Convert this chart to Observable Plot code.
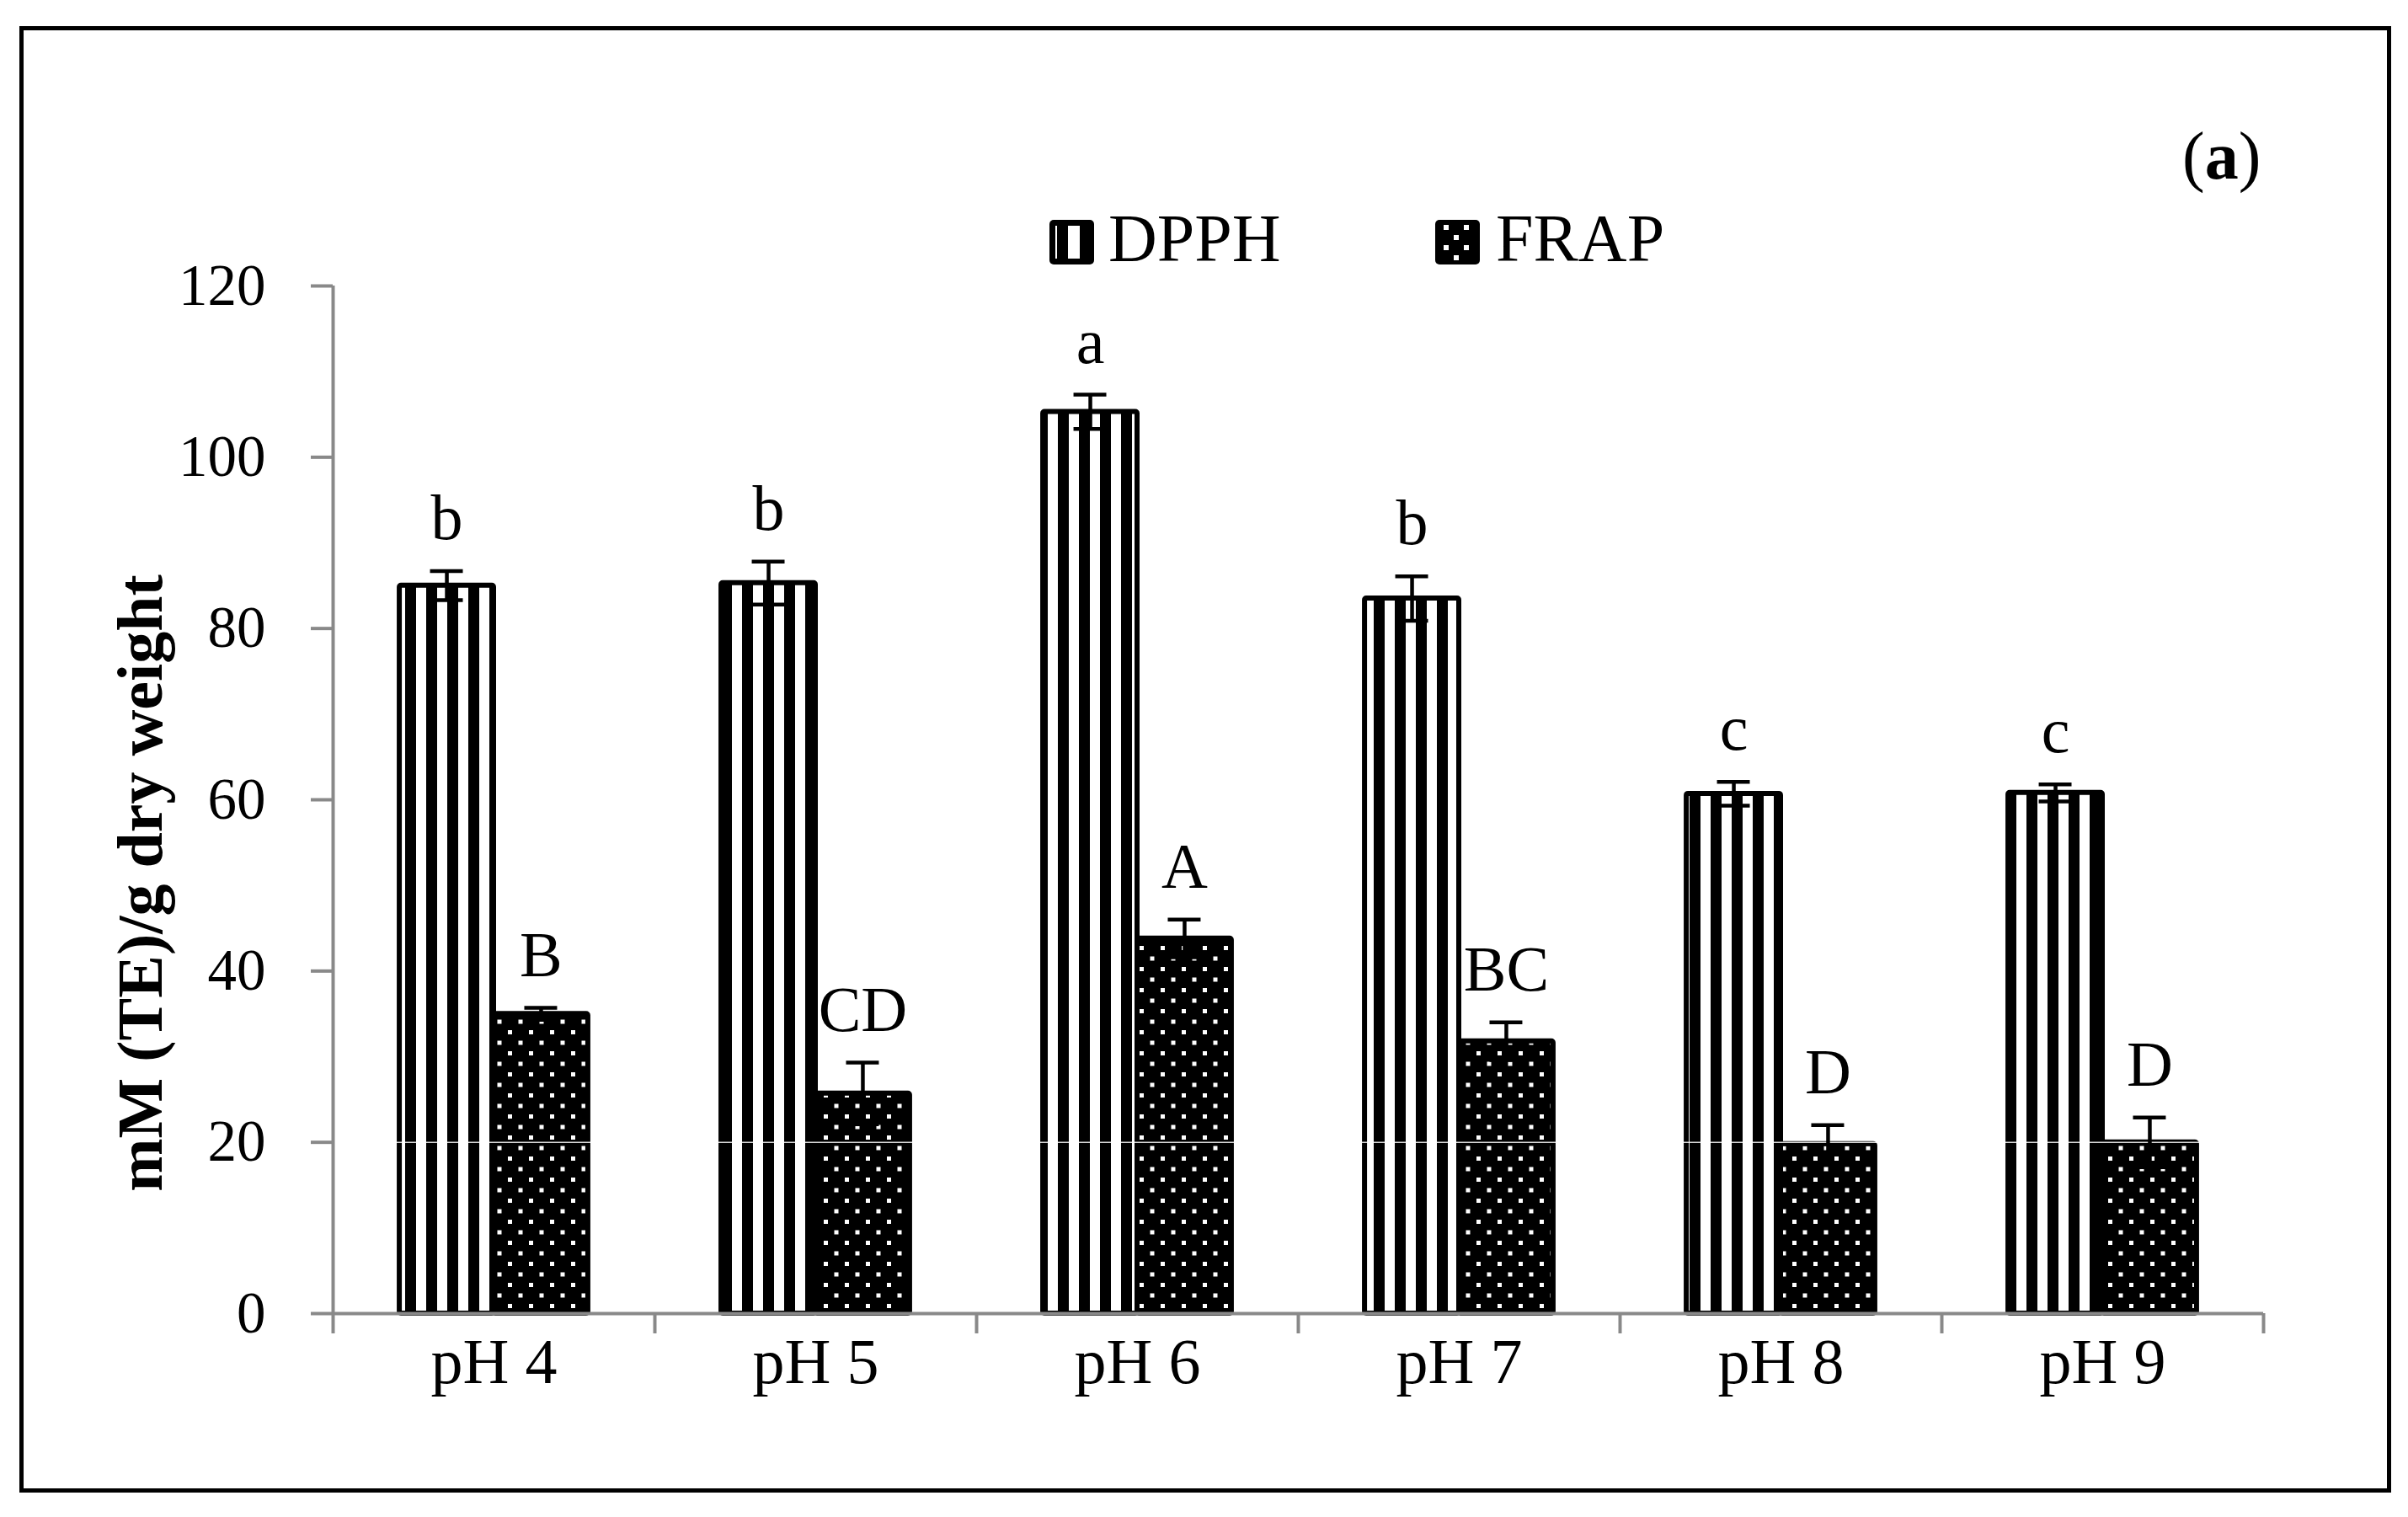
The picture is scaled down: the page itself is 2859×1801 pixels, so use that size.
<!DOCTYPE html>
<html>
<head>
<meta charset="utf-8">
<script src="https://cdn.jsdelivr.net/npm/d3@7"></script>
<script src="https://cdn.jsdelivr.net/npm/@observablehq/plot@0.6"></script>
<style>
  html, body { margin: 0; padding: 0; background: white; }
  #page { position: relative; width: 2859px; height: 1801px; background: white; font-family: "Liberation Serif", "Times New Roman", serif; color: black; }
  #frame { position: absolute; left: 23px; top: 31px; width: 2816px; height: 1741px; border: 5px solid black; box-sizing: border-box; z-index: 5; pointer-events: none; }
  #chart { position: absolute; left: 0; top: 320px; }
  .lbl { position: absolute; line-height: 1; white-space: nowrap; }
  .sw { position: absolute; }
</style>
</head>
<body>
<div id="page">
  <div id="chart"></div>
  <div id="frame"></div>
  <svg class="sw" style="left:1246px;top:261px" width="53" height="53" viewBox="0 0 53 53">
    <rect x="0" y="0" width="53" height="53" rx="5" fill="black"/>
    <rect x="7" y="7" width="2" height="39" fill="white"/>
    <rect x="22" y="7" width="14" height="39" fill="white"/>
  </svg>
  <div class="lbl" id="lg1" style="left:1316px;top:243px;font-size:80px"></div>
  <svg class="sw" style="left:1704px;top:261px" width="53" height="53" viewBox="0 0 53 53">
    <rect x="0" y="0" width="53" height="53" rx="5" fill="black"/>
    <rect x="10" y="6" width="6" height="6" fill="white"/>
    <rect x="34" y="6" width="6" height="6" fill="white"/>
    <rect x="22" y="18" width="6" height="6" fill="white"/>
    <rect x="10" y="30" width="6" height="6" fill="white"/>
    <rect x="34" y="30" width="6" height="6" fill="white"/>
    <rect x="22" y="42" width="6" height="6" fill="white"/>
  </svg>
  <div class="lbl" id="lg2" style="left:1776px;top:243px;font-size:80px"></div>
  <div class="lbl" style="left:2591px;top:145px;font-size:80px">(<b>a</b>)</div>
</div>
<script>
// ---- data ----
const categories = ["pH 4", "pH 5", "pH 6", "pH 7", "pH 8", "pH 9"];
const seriesNames = ["DPPH", "FRAP"];
const dpph = [85.0, 85.3, 105.3, 83.5, 60.7, 60.8];
const dpphErr = [1.7, 2.5, 2.0, 2.6, 1.4, 1.0];
const frap = [35.0, 25.7, 43.8, 31.8, 19.8, 20.0];
const frapErr = [0.7, 3.6, 2.2, 2.2, 2.2, 2.9];
const dpphLetters = ["b", "b", "a", "b", "c", "c"];
const frapLetters = ["B", "CD", "A", "BC", "D", "D"];
const yTicks = [0, 20, 40, 60, 80, 100, 120];
const yLabel = "mM (TE)/g dry weight";

document.getElementById("lg1").textContent = seriesNames[0];
document.getElementById("lg2").textContent = seriesNames[1];

const rows = categories.flatMap((c, i) => [
  {cat: c, i, s: seriesNames[0], v: dpph[i], e: dpphErr[i], l: dpphLetters[i]},
  {cat: c, i, s: seriesNames[1], v: frap[i], e: frapErr[i], l: frapLetters[i]}
]);
const boundaries = d3.range(categories.length + 1);
const centers = categories.map((c, i) => i + 0.5);

// layout constants (in category units)
const PAD = 0.207, HALF = 0.293, CAP = 0.051;
const x1 = d => d.i + (d.s === seriesNames[0] ? PAD : 0.5);
const x2 = d => x1(d) + HALF;
const xc = d => x1(d) + HALF / 2;
const gray = "#898989";

const svgPlot = Plot.plot({
  width: 2859,
  height: 1420,
  marginTop: 19,
  marginBottom: 181,
  marginLeft: 395,
  marginRight: 172,
  x: {domain: [0, categories.length], axis: null, label: null},
  y: {domain: [0, 120], axis: null, label: null},
  style: {fontFamily: "'Liberation Serif', 'Times New Roman', serif", background: "none", color: "black", overflow: "visible"},
  marks: [
    Plot.rect(rows.filter(d => d.s === seriesNames[0]), {x1, x2, y1: 0, y2: "v", fill: "url(#dpphPat)", stroke: "black", strokeWidth: 6, rx: 2}),
    Plot.rect(rows.filter(d => d.s === seriesNames[1]), {x1, x2, y1: 0, y2: "v", fill: "url(#frapPat)", stroke: "black", strokeWidth: 6, rx: 2}),
    Plot.ruleY([20], {x1: 0, x2: categories.length, stroke: "white", strokeWidth: 1.5, strokeOpacity: 0.85}),
    // error bars
    Plot.ruleX(rows, {x: xc, y1: d => d.v - d.e, y2: d => d.v + d.e, stroke: "black", strokeWidth: 4.5}),
    Plot.ruleY(rows, {y: d => d.v + d.e, x1: d => xc(d) - CAP, x2: d => xc(d) + CAP, stroke: "black", strokeWidth: 4.5}),
    Plot.ruleY(rows, {y: d => d.v - d.e, x1: d => xc(d) - CAP, x2: d => xc(d) + CAP, stroke: "black", strokeWidth: 4.5}),
    // significance letters
    Plot.text(rows, {x: xc, y: d => d.v + d.e, text: "l", lineAnchor: "bottom", dy: -38, fontSize: 76, fill: "black"}),
    // axes lines
    Plot.ruleY([0], {x1: 0, x2: categories.length, stroke: gray, strokeWidth: 4}),
    Plot.ruleX([0], {y1: 0, y2: 120, stroke: gray, strokeWidth: 4}),
    Plot.axisY(yTicks, {label: null, tickSize: 26, tickPadding: 54, fontSize: 69, stroke: gray, strokeWidth: 4, fill: "black", tickFormat: d => String(d)}),
    Plot.axisX(boundaries, {label: null, tickSize: 24, tickFormat: () => "", stroke: gray, strokeWidth: 4}),
    Plot.text(categories, {x: (d, i) => centers[i], frameAnchor: "bottom", lineAnchor: "bottom", dy: 82, fontSize: 76, fill: "black"}),
    Plot.text([yLabel], {frameAnchor: "left", rotate: -90, dx: -204, dy: 99, lineAnchor: "bottom", textAnchor: "middle", fontSize: 76, fontWeight: "bold", fill: "black"})
  ]
});

const svg = d3.select(svgPlot);
const defs = svg.insert("defs", ":first-child");
const p1 = defs.append("pattern").attr("id", "dpphPat").attr("patternUnits", "userSpaceOnUse").attr("width", 25).attr("height", 25);
p1.append("rect").attr("width", 25).attr("height", 25).attr("fill", "white");
p1.append("rect").attr("x", 6).attr("width", 13).attr("height", 25).attr("fill", "black");
const p2 = defs.append("pattern").attr("id", "frapPat").attr("patternUnits", "userSpaceOnUse").attr("width", 25).attr("height", 25);
p2.append("rect").attr("width", 25).attr("height", 25).attr("fill", "black");
p2.append("rect").attr("x", 3).attr("y", 3).attr("width", 5).attr("height", 5).attr("fill", "white");
p2.append("rect").attr("x", 15.5).attr("y", 15.5).attr("width", 5).attr("height", 5).attr("fill", "white");

document.getElementById("chart").appendChild(svgPlot);
</script>
</body>
</html>
